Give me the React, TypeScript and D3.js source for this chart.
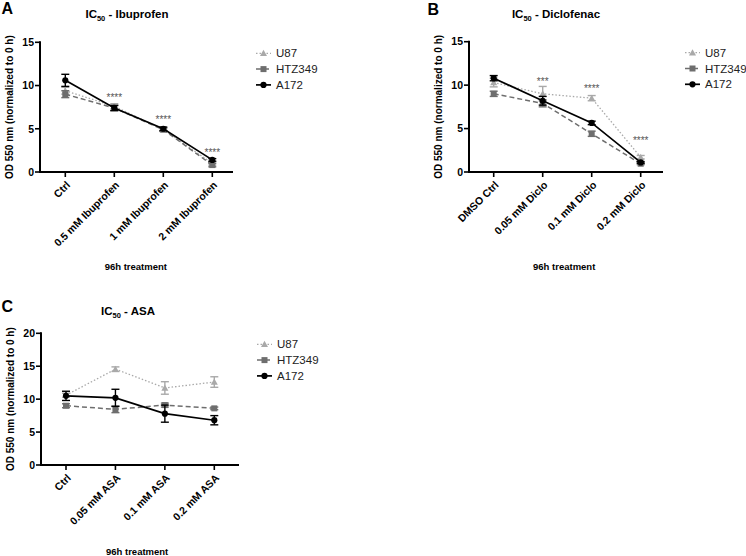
import React from "react";
import * as d3 from "d3";

// ---------- data ----------
const seriesNames = ["U87", "HTZ349", "A172"];

const catsA = ["Ctrl", "0.5 mM Ibuprofen", "1 mM Ibuprofen", "2 mM Ibuprofen"];
const u87A = [9.4, 7.6, 4.9, 1.0];
const u87AErr = [0.4, 0.3, 0.2, 0.2];
const htzA = [9.0, 7.4, 4.9, 0.8];
const htzAErr = [0.4, 0.3, 0.2, 0.2];
const a172A = [10.6, 7.4, 5.0, 1.4];
const a172AErr = [0.7, 0.3, 0.2, 0.15];
const starsA = ["", "****", "****", "****"];
const starYA = [0, 8.8, 6.3, 2.5];

const catsB = ["DMSO Ctrl", "0.05 mM Diclo", "0.1 mM Diclo", "0.2 mM Diclo"];
const u87B = [10.3, 9.0, 8.5, 1.7];
const u87BErr = [0.5, 0.85, 0.3, 0.2];
const htzB = [9.0, 7.9, 4.4, 0.95];
const htzBErr = [0.3, 0.4, 0.3, 0.1];
const a172B = [10.8, 8.2, 5.65, 1.1];
const a172BErr = [0.3, 0.5, 0.2, 0.1];
const starsB = ["", "***", "****", "****"];
const starYB = [0, 10.6, 9.8, 3.8];

const catsC = ["Ctrl", "0.05 mM ASA", "0.1 mM ASA", "0.2 mM ASA"];
const u87C = [10.6, 14.55, 11.7, 12.6];
const u87CErr = [0.3, 0.35, 0.95, 0.8];
const htzC = [9.0, 8.45, 9.1, 8.6];
const htzCErr = [0.3, 0.5, 0.3, 0.2];
const a172C = [10.5, 10.2, 7.8, 6.8];
const a172CErr = [0.7, 1.3, 1.3, 0.7];
const starsC = ["", "", "", ""];
const starYC = [0, 0, 0, 0];

const yTicksAB = [0, 5, 10, 15];
const yTicksC = [0, 5, 10, 15, 20];

// ---------- styles ----------
const FONT = "'Liberation Sans', Arial, Helvetica, sans-serif";
const styles = [
  { color: "#a9a9a9", dash: "1.5,2", width: 1.3, marker: "tri" },
  { color: "#6e6e6e", dash: "5,3", width: 1.5, marker: "sq" },
  { color: "#000000", dash: "", width: 1.7, marker: "circ" },
];

function Marker({ kind, x, y, color }: { kind: string; x: number; y: number; color: string }) {
  if (kind === "tri") {
    const s = 3.5;
    return <path d={`M${x},${y - s}L${x + s},${y + s * 0.8}L${x - s},${y + s * 0.8}Z`} fill={color} />;
  }
  if (kind === "sq") {
    return <rect x={x - 3} y={y - 3} width={6} height={6} fill={color} />;
  }
  return <circle cx={x} cy={y} r={3.1} fill={color} />;
}

type PanelProps = {
  letter: string;
  letterX: number;
  letterY: number;
  drug: string;
  titleY: number;
  left: number;
  top: number;
  bottom: number;
  firstTick: number;
  lastTick: number;
  axisEnd: number;
  ymax: number;
  yTicks: number[];
  cats: string[];
  values: number[][];
  errors: number[][];
  stars: string[];
  starY: number[];
  footY: number;
};

function Panel(p: PanelProps) {
  const y = d3.scaleLinear().domain([0, p.ymax]).range([p.bottom, p.top]);
  const x = d3.scalePoint<string>().domain(p.cats).range([p.firstTick, p.lastTick]);
  const line = d3
    .line<number>()
    .x((_, i) => x(p.cats[i]) as number)
    .y((d) => y(d));
  const legX = p.left + 216;
  const legY0 = p.top + 11;
  return (
    <g fontFamily={FONT}>
      <text x={p.letterX} y={p.letterY} fontSize={16} fontWeight="bold">
        {p.letter}
      </text>
      <text x={p.left + 87} y={p.titleY} fontSize={11.5} fontWeight="bold" textAnchor="middle">
        IC<tspan fontSize={7.5} dy={3}>50</tspan>
        <tspan dy={-3}>{" - " + p.drug}</tspan>
      </text>
      <text
        transform={`translate(${p.left - 31},${(p.top + p.bottom) / 2}) rotate(-90)`}
        fontSize={10}
        fontWeight="bold"
        textAnchor="middle"
        dy="0.35em"
      >
        OD 550 nm (normalized to 0 h)
      </text>
      {/* series */}
      {p.values.map((vals, si) => {
        const st = styles[si];
        return (
          <g key={si}>
            <path d={line(vals) || ""} fill="none" stroke={st.color} strokeWidth={st.width} strokeDasharray={st.dash} />
            {vals.map((v, i) => {
              const cx = x(p.cats[i]) as number;
              const e = p.errors[si][i];
              const y1 = y(v + e);
              const y2 = y(v - e);
              return (
                <g key={i} stroke={st.color} strokeWidth={1.4}>
                  <line x1={cx} x2={cx} y1={y1} y2={y2} />
                  <line x1={cx - 4} x2={cx + 4} y1={y1} y2={y1} />
                  <line x1={cx - 4} x2={cx + 4} y1={y2} y2={y2} />
                </g>
              );
            })}
            {vals.map((v, i) => (
              <Marker key={"m" + i} kind={st.marker} x={x(p.cats[i]) as number} y={y(v)} color={st.color} />
            ))}
          </g>
        );
      })}
      {/* stars */}
      {p.stars.map((s, i) =>
        s ? (
          <text key={i} x={x(p.cats[i]) as number} y={y(p.starY[i])} dy="0.55em" fontSize={10} fill="#555" textAnchor="middle">
            {s}
          </text>
        ) : null
      )}
      {/* axes */}
      <line x1={p.left} x2={p.left} y1={p.top - 1} y2={p.bottom + 1} stroke="#000" strokeWidth={2} />
      <line x1={p.left - 1} x2={p.axisEnd} y1={p.bottom} y2={p.bottom} stroke="#000" strokeWidth={2} />
      {p.yTicks.map((t) => (
        <g key={t}>
          <line x1={p.left - 5} x2={p.left} y1={y(t)} y2={y(t)} stroke="#000" strokeWidth={1.6} />
          <text x={p.left - 6} y={y(t)} dy="0.36em" textAnchor="end" fontSize={10.5} fontWeight="bold">
            {t}
          </text>
        </g>
      ))}
      {p.cats.map((c) => {
        const cx = x(c) as number;
        return (
          <g key={c}>
            <line x1={cx} x2={cx} y1={p.bottom} y2={p.bottom + 5} stroke="#000" strokeWidth={1.6} />
            <text
              transform={`translate(${cx + 3},${p.bottom + 11}) rotate(-45)`}
              textAnchor="end"
              dy="0.35em"
              fontSize={10.5}
              fontWeight="bold"
            >
              {c}
            </text>
          </g>
        );
      })}
      <text x={(p.firstTick + p.lastTick) / 2 - 3} y={p.footY} dy="0.35em" textAnchor="middle" fontSize={9.5} fontWeight="bold">
        96h treatment
      </text>
      {/* legend */}
      {seriesNames.map((n, i) => {
        const st = styles[i];
        const ly = legY0 + i * 15.8;
        return (
          <g key={n}>
            <line x1={legX} x2={legX + 15} y1={ly} y2={ly} stroke={st.color} strokeWidth={st.width} strokeDasharray={st.dash} />
            <Marker kind={st.marker} x={legX + 7.5} y={ly} color={st.color} />
            <text x={legX + 20} y={ly} dy="0.36em" fontSize={11.5} fill="#222">
              {n}
            </text>
          </g>
        );
      })}
    </g>
  );
}

export default function App() {
  return (
    <svg width={746} height={556} style={{ position: "absolute", left: 0, top: 0, background: "#fff" }}>
      <rect width={746} height={556} fill="#fff" />
      <Panel
        letter="A"
        letterX={1.5}
        letterY={13.5}
        drug="Ibuprofen"
        titleY={17.5}
        left={40}
        top={42.3}
        bottom={172}
        firstTick={65.3}
        lastTick={212.3}
        axisEnd={233}
        ymax={15}
        yTicks={yTicksAB}
        cats={catsA}
        values={[u87A, htzA, a172A]}
        errors={[u87AErr, htzAErr, a172AErr]}
        stars={starsA}
        starY={starYA}
        footY={267}
      />
      <Panel
        letter="B"
        letterX={427.5}
        letterY={14.5}
        drug="Diclofenac"
        titleY={18}
        left={469}
        top={41.7}
        bottom={172}
        firstTick={493.7}
        lastTick={640.7}
        axisEnd={663}
        ymax={15}
        yTicks={yTicksAB}
        cats={catsB}
        values={[u87B, htzB, a172B]}
        errors={[u87BErr, htzBErr, a172BErr]}
        stars={starsB}
        starY={starYB}
        footY={267}
      />
      <Panel
        letter="C"
        letterX={1.5}
        letterY={312}
        drug="ASA"
        titleY={315}
        left={41}
        top={333.3}
        bottom={465}
        firstTick={66}
        lastTick={214.3}
        axisEnd={239}
        ymax={20}
        yTicks={yTicksC}
        cats={catsC}
        values={[u87C, htzC, a172C]}
        errors={[u87CErr, htzCErr, a172CErr]}
        stars={starsC}
        starY={starYC}
        footY={551.5}
      />
    </svg>
  );
}
